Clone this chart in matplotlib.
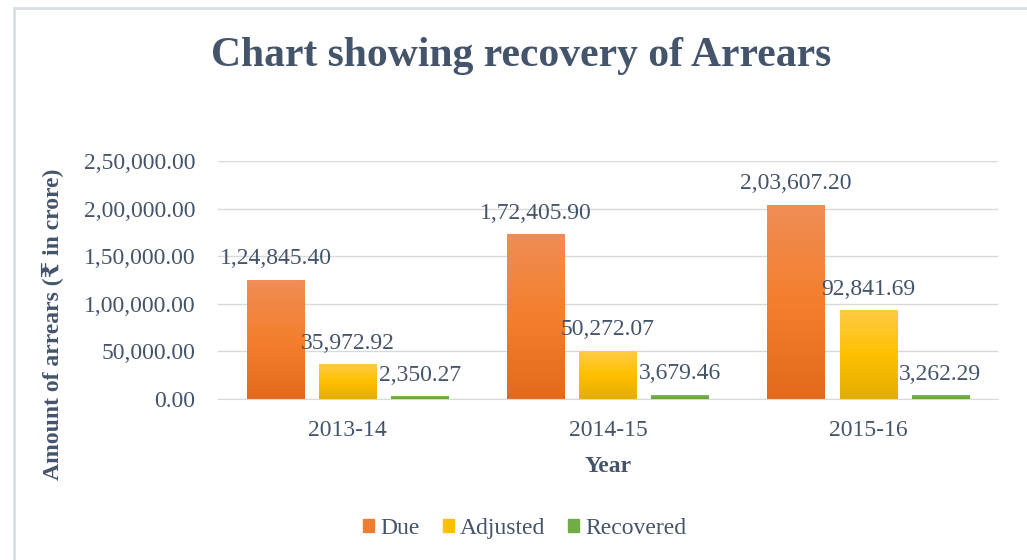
import numpy as np
import matplotlib
matplotlib.use("Agg")
import matplotlib.pyplot as plt
from matplotlib.colors import LinearSegmentedColormap
from matplotlib.patches import Rectangle

plt.rcParams['font.family'] = ['Liberation Serif', 'DejaVu Serif', 'DejaVu Sans']

years = ['2013-14', '2014-15', '2015-16']
due = [124845.40, 172405.90, 203607.20]
adjusted = [35972.92, 50272.07, 92841.69]
recovered = [2350.27, 3679.46, 3262.29]

TEXT = '#44546A'


def indian_fmt(v):
    '''Формат числа в индийской системе (лакхи)'''
    whole, frac = f"{v:.2f}".split('.')
    if len(whole) > 3:
        head, tail = whole[:-3], whole[-3:]
        groups = []
        while len(head) > 2:
            groups.insert(0, head[-2:])
            head = head[:-2]
        if head:
            groups.insert(0, head)
        whole = ','.join(groups + [tail])
    return f"{whole}.{frac}"


fig = plt.figure(figsize=(10.27, 5.6), dpi=100)
ax = fig.add_axes([0.212, 0.2875, 0.76, 0.425])

x = np.arange(len(years))
width = 0.22
step = 0.277

series = [
    ('Due', due, ['#E36A1C', '#F47F2C', '#F08D55'], '#ED7D31'),
    ('Adjusted', adjusted, ['#E3AD00', '#FFC000', '#FFCB45'], '#FFC000'),
    ('Recovered', recovered, ['#5E9A3A', '#70AD47', '#7DBB55'], '#70AD47'),
]

handles = []
for i, (name, vals, grad, base) in enumerate(series):
    bars = ax.bar(x + (i - 1) * step, vals, width, color='none', edgecolor='none')
    cmap = LinearSegmentedColormap.from_list(name, grad)
    for bar, v in zip(bars, vals):
        x0, w, h = bar.get_x(), bar.get_width(), bar.get_height()
        g = np.linspace(0, 1, 100).reshape(-1, 1)
        ax.imshow(g, extent=[x0, x0 + w, 0, h], origin='lower', aspect='auto',
                  cmap=cmap, zorder=2)
        ax.annotate(indian_fmt(v), xy=(x0 + w / 2, h), xytext=(0, 8),
                    textcoords='offset points', ha='center', va='bottom',
                    fontsize=17, color=TEXT, zorder=3)
    handles.append(Rectangle((0, 0), 1, 1, color=base))

ax.set_xlim(-0.5, 2.5)
ax.set_ylim(0, 250000)
ax.set_yticks(np.arange(0, 250001, 50000))
ax.set_yticklabels([indian_fmt(t) for t in np.arange(0, 250001, 50000)])
ax.set_xticks(x)
ax.set_xticklabels(years)
ax.tick_params(axis='both', length=0, labelsize=17, labelcolor=TEXT)
ax.tick_params(axis='y', pad=16)
ax.tick_params(axis='x', pad=15)
ax.grid(axis='y', color='#D9D9D9', linewidth=1, zorder=0)
ax.set_axisbelow(True)
for s in ['top', 'right', 'left']:
    ax.spines[s].set_visible(False)
ax.spines['bottom'].set_color('#D9D9D9')

ax.set_ylabel('Amount of arrears (₹ in crore)', fontsize=17, fontweight='bold',
              color=TEXT)
ax.yaxis.set_label_coords(-0.197, 0.315)
ax.set_xlabel('Year', fontsize=17, fontweight='bold', color=TEXT, labelpad=11)

fig.text(0.507, 0.9, 'Chart showing recovery of Arrears', ha='center', va='center',
         fontsize=30, fontweight='bold', color=TEXT)

fig.legend(handles, [s[0] for s in series], loc='center', bbox_to_anchor=(0.511, 0.057),
           ncol=3, frameon=False, fontsize=17, handlelength=0.45, handleheight=0.45,
           handletextpad=0.25, columnspacing=1.0, labelcolor=TEXT)

fig.patches.append(Rectangle((14 / 1027, -0.01), 1.0, 1 - 8 / 560 + 0.01,
                             transform=fig.transFigure, fill=False,
                             edgecolor='#D9DEE6', linewidth=2))

plt.savefig('out.png', dpi=100)
